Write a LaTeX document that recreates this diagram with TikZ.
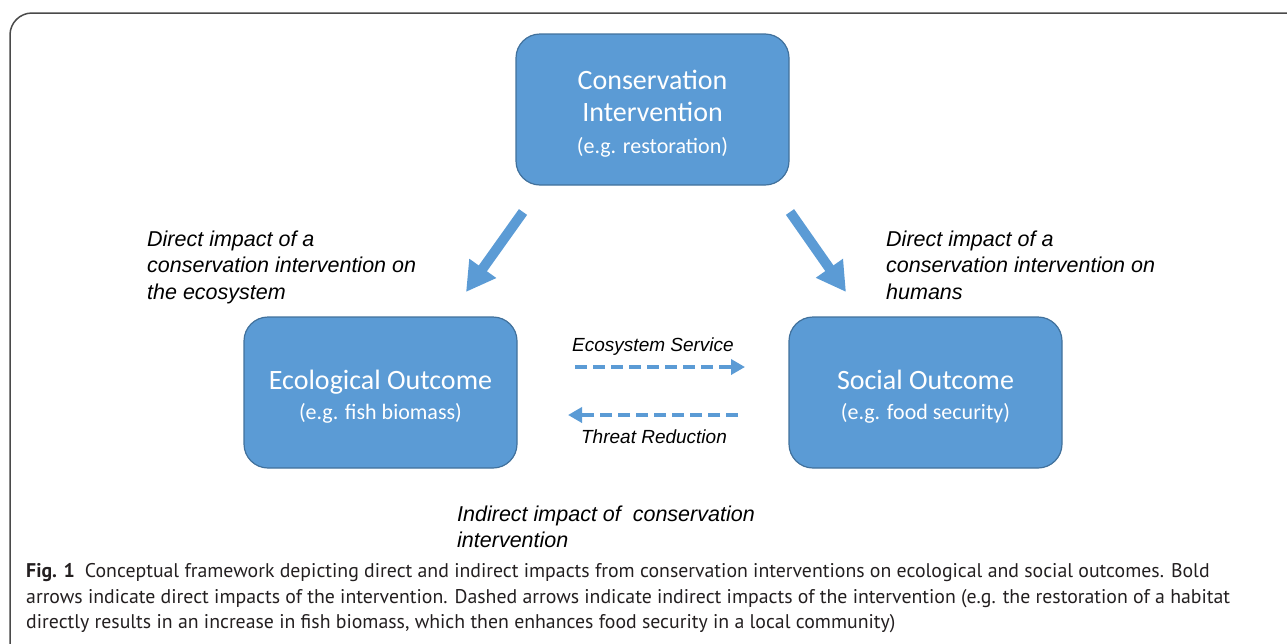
\documentclass[tikz,border=0pt]{standalone}
\usepackage{fontspec}
\setmainfont{Liberation Sans}
\newfontfamily\boxfont{Carlito}
\newfontfamily\capfont{PT Sans}
\usetikzlibrary{arrows.meta}
\definecolor{boxblue}{HTML}{5B9BD5}
\definecolor{boxedge}{HTML}{41719C}
\definecolor{framegray}{HTML}{4A4A4A}
\definecolor{captext}{HTML}{231F20}
\tikzset{
  ibox/.style={rectangle, rounded corners=24pt, fill=boxblue, draw=boxedge, line width=1.2pt,
    minimum width=273pt, minimum height=151pt, text=white, align=center, inner sep=0pt,
    font=\boxfont\fontsize{28}{32}\selectfont},
  lab/.style={inner sep=0pt, align=left, text=black, font=\itshape\fontsize{21.5}{26.5}\selectfont},
  slab/.style={inner sep=0pt, text=black, font=\itshape\fontsize{19}{23}\selectfont},
  bold arrow/.style={draw=boxblue, line width=10pt, -{Triangle[width=31pt,length=29pt]}},
  dash arrow/.style={draw=boxblue, line width=4pt, dash pattern=on 12pt off 6pt, -{Triangle[width=15pt,length=14pt]}},
  caption/.style={inner sep=0pt, anchor=base west, text=captext, font=\capfont\fontsize{19.8}{25}\selectfont}
}
\newcommand{\smallline}{\fontsize{22}{30}\selectfont}
\begin{document}
\begin{tikzpicture}[x=1pt,y=-1pt]
\useasboundingbox (0,0) rectangle (1287,643);
\clip (0,0) rectangle (1287,643);
\draw[framegray, line width=1.5pt, rounded corners=22pt] (10,13) rectangle (1330,700);

\node[ibox] (ci) at (652.5,109.5) {\rule{0pt}{28pt}Conservation\\Intervention\\{\smallline (e.g. restoration)}};
\node[ibox] (eco) at (380.5,392.5) {\rule{0pt}{27pt}Ecological Outcome\\[-2pt]{\smallline (e.g. fish biomass)}};
\node[ibox] (soc) at (925.5,392.5) {\rule{0pt}{27pt}Social Outcome\\[-2pt]{\smallline (e.g. food security)}};

\coordinate (a1s) at (523,212); \coordinate (a1e) at (466,292);
\coordinate (a2s) at (790,212); \coordinate (a2e) at (846,292);
\draw[bold arrow] (a1s) -- (a1e);
\draw[bold arrow] (a2s) -- (a2e);

\coordinate (e1s) at (575,367); \coordinate (e1e) at (745,367);
\coordinate (t1s) at (738,415); \coordinate (t1e) at (568,415);
\draw[dash arrow] (e1s) -- (e1e);
\draw[dash arrow] (t1s) -- (t1e);

\node[lab, anchor=north west] (dl) at (147,230.5) {Direct impact of a\\conservation intervention on\\the ecosystem};
\node[lab, anchor=north west] (dr) at (886,230.5) {Direct impact of a\\conservation intervention on\\humans};
\node[lab, anchor=north west] (ind) at (457,505.5) {Indirect impact of\ \ conservation\\intervention};
\node[slab] (es) at (653,347) {Ecosystem Service};
\node[slab] (tr) at (654,437) {Threat Reduction};

\node[caption] (c1) at (26,577) {\textbf{Fig. 1}\hspace{10pt}Conceptual framework depicting direct and indirect impacts from conservation interventions on ecological and social outcomes. Bold};
\node[caption] (c2) at (26,603) {arrows indicate direct impacts of the intervention. Dashed arrows indicate indirect impacts of the intervention (e.g. the restoration of a habitat};
\node[caption] (c3) at (26,628) {directly results in an increase in fish biomass, which then enhances food security in a local community)};
\end{tikzpicture}
\end{document}
